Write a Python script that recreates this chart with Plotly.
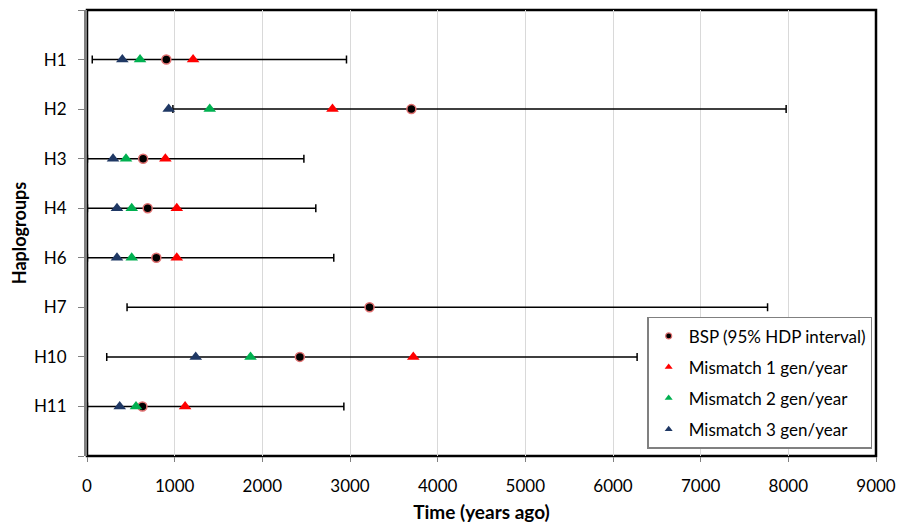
import plotly.graph_objects as go

groups = ["H1", "H2", "H3", "H4", "H6", "H7", "H10", "H11"]
bsp = [905, 3700, 640, 692, 791, 3223, 2428, 632]
hpd_low = [60, 980, 5, 5, 5, 457, 225, 5]
hpd_high = [2960, 7975, 2474, 2610, 2815, 7763, 6275, 2930]
mm1 = [1210, 2800, 894, 1024, 1024, None, 3722, 1119]
mm2 = [605, 1400, 445, 510, 510, None, 1865, 559]
mm3 = [403, 932, 297, 342, 342, None, 1240, 373]
x_ticks = [0, 1000, 2000, 3000, 4000, 5000, 6000, 7000, 8000, 9000]

ypos = list(range(1, len(groups) + 1))
FONT = "Lato"

RED = "#ff0000"
GREEN = "#00b050"
NAVY = "#1f3864"
BSP_LINE = "#e07070"

fig = go.Figure()

# BSP with 95% HPD interval
fig.add_trace(go.Scatter(
    x=bsp, y=ypos, mode="markers", showlegend=False,
    marker=dict(symbol="circle", size=9, color="#000000",
                line=dict(color=BSP_LINE, width=1.5)),
    error_x=dict(type="data", symmetric=False,
                 array=[h - b for h, b in zip(hpd_high, bsp)],
                 arrayminus=[b - l for b, l in zip(bsp, hpd_low)],
                 color="#000000", thickness=1.5, width=4),
))

series = [("Mismatch 1 gen/year", mm1, RED),
          ("Mismatch 2 gen/year", mm2, GREEN),
          ("Mismatch 3 gen/year", mm3, NAVY)]
for name, vals, col in series:
    fig.add_trace(go.Scatter(
        x=vals, y=ypos, mode="markers", showlegend=False,
        marker=dict(symbol="triangle-up", size=11, color=col, line=dict(width=0)),
    ))

# legend entries (small symbols like reference)
fig.add_trace(go.Scatter(
    x=[None], y=[None], mode="markers", name="BSP (95% HDP interval)",
    legendgroup="a",
    marker=dict(symbol="circle", size=6, color="#000000",
                line=dict(color=BSP_LINE, width=1.2)),
))
for i, (name, vals, col) in enumerate(series):
    fig.add_trace(go.Scatter(
        x=[None], y=[None], mode="markers", name=name, legendgroup=str(i),
        marker=dict(symbol="triangle-up", size=7, color=col, line=dict(width=0)),
    ))

fig.add_shape(type="rect", xref="paper", yref="paper", x0=0, x1=1, y0=0, y1=1,
              line=dict(color="#000000", width=2.5), layer="below")

# page body has an 8px margin: figure is sized/margined to compensate
fig.update_layout(
    width=899, height=516,
    margin=dict(l=79, r=31, t=2, b=68),
    paper_bgcolor="white", plot_bgcolor="white",
    font=dict(family=FONT, size=18, color="#000000"),
    showlegend=True,
    legend=dict(x=0.710, y=0.312, xanchor="left", yanchor="top",
                bordercolor="#808080", borderwidth=1.5, bgcolor="white",
                font=dict(family=FONT, size=17, color="#000000"),
                traceorder="grouped", tracegroupgap=6),
    xaxis=dict(range=[0, 9000], tickvals=x_ticks, ticktext=[str(v) for v in x_ticks],
               showgrid=True, gridcolor="#d9d9d9", gridwidth=1,
               zeroline=False, showline=False,
               ticks="outside", ticklen=5, tickcolor="#808080", tickwidth=1,
               ticklabelstandoff=10,
               title=dict(text="<b>Time (years ago)</b>", font=dict(size=19), standoff=10),
               tickfont=dict(size=17), automargin=False),
    yaxis=dict(range=[9, 0], tickvals=list(range(0, len(groups) + 2)),
               ticktext=[""] + groups + [""],
               showgrid=False, zeroline=False,
               showline=True, linecolor="#808080", linewidth=3,
               ticks="outside", ticklen=6, tickcolor="#808080", tickwidth=1,
               ticklabelstandoff=8,
               title=dict(text="<b>Haplogroups</b>", font=dict(size=18), standoff=8),
               tickfont=dict(size=17), automargin=False),
)

fig.write_html("out.html")
